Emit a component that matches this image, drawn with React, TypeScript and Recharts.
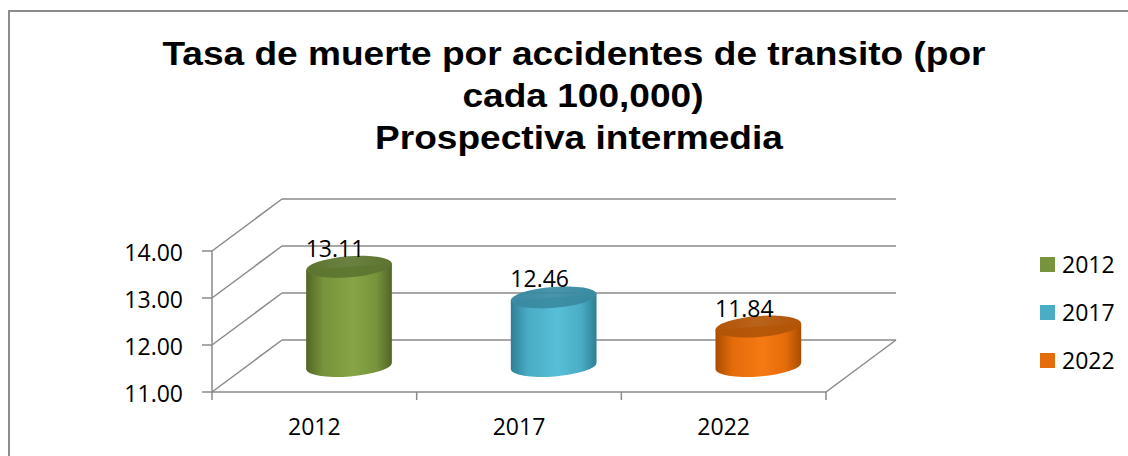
import React from 'react';
import { BarChart, Bar, XAxis, YAxis, CartesianGrid, Legend, LabelList, Cell } from 'recharts';

const years = ['2012', '2017', '2022'];
const rates = [13.11, 12.46, 11.84];
const yTicks = [11, 12, 13, 14];
const colors = ['#77933C', '#4BACC6', '#E46C0A'];
const titleLines = ['Tasa de muerte por accidentes de transito (por', 'cada 100,000)', 'Prospectiva intermedia'];

const data = years.map((year, i) => ({ year, rate: rates[i] }));

// shading for the cylinders (edge, middle, top)
const edgeShade = ['#526526', '#2c7f95', '#a94c00'];
const midShade = ['#87a546', '#58bed7', '#f67a14'];
const topShade = ['#5d7530', '#3a8ba2', '#b25507'];

// fake 3D depth of the Excel box
const DX = 70;
const DY = 52;
const PLOT_LEFT = 212;
const PLOT_RIGHT = 826;
const HALF_BAND = (PLOT_RIGHT - PLOT_LEFT) / years.length / 2;

const FONT = '"Open Sans", sans-serif';
const GRID = '#8a8a8a';

function Cylinder(props: any) {
  const { x, y, width, height, index } = props;
  if (height == null || width == null) return null;
  const cx = x + width / 2 + DX / 2;
  const topY = y - DY / 2;
  const botY = y + height - DY / 2;
  const rx = width / 2;
  const ry = 10.5;
  const tilt = 4.5;
  const t = (tilt * Math.PI) / 180;
  const ox = rx * Math.cos(t);
  const oy = rx * Math.sin(t);
  const body = `M${cx - ox},${topY + oy} L${cx - ox},${botY + oy} A${rx},${ry} ${-tilt} 0 0 ${cx + ox},${botY - oy} L${cx + ox},${topY - oy} Z`;
  const bid = `cyl-body-${index}`;
  const tid = `cyl-top-${index}`;
  return (
    <g>
      <defs>
        <linearGradient id={bid} x1="0" y1="0" x2="1" y2="0">
          <stop offset="0%" stopColor={edgeShade[index]} />
          <stop offset="20%" stopColor={colors[index]} />
          <stop offset="55%" stopColor={midShade[index]} />
          <stop offset="82%" stopColor={colors[index]} />
          <stop offset="100%" stopColor={edgeShade[index]} />
        </linearGradient>
        <linearGradient id={tid} x1="0" y1="0" x2="1" y2="0">
          <stop offset="0%" stopColor={topShade[index]} />
          <stop offset="50%" stopColor={topShade[index]} stopOpacity={0.92} />
          <stop offset="100%" stopColor={topShade[index]} />
        </linearGradient>
      </defs>
      <path d={body} fill={`url(#${bid})`} />
      <ellipse cx={cx} cy={topY} rx={rx} ry={ry} transform={`rotate(${-tilt} ${cx} ${topY})`} fill={`url(#${tid})`} />
    </g>
  );
}

const renderValue = (props: any) => {
  const { x, y, width, value } = props;
  return (
    <text x={x + width / 2 + DX / 2 - 14} y={y - DY / 2 - 10} textAnchor="middle" fontFamily={FONT} fontSize={23} fill="#000">
      {Number(value).toFixed(2)}
    </text>
  );
};

const renderGridLine = (props: any) => {
  const { x1, x2, y1, key } = props;
  return (
    <g key={key}>
      <line x1={x1} y1={y1} x2={x1 + DX} y2={y1 - DY} stroke={GRID} strokeWidth={1.5} />
      <line x1={x1 + DX} y1={y1 - DY} x2={x2 + DX} y2={y1 - DY} stroke={GRID} strokeWidth={1.5} />
    </g>
  );
};

const XTick = (props: any) => {
  const { x, y, payload, index } = props;
  const last = index === years.length - 1;
  return (
    <g>
      <line x1={x - HALF_BAND} y1={y} x2={x - HALF_BAND} y2={y + 8} stroke={GRID} strokeWidth={1.5} />
      {last && <line x1={x + HALF_BAND} y1={y} x2={x + HALF_BAND} y2={y + 8} stroke={GRID} strokeWidth={1.5} />}
      {last && <line x1={x + HALF_BAND} y1={y} x2={x + HALF_BAND + DX} y2={y - DY} stroke={GRID} strokeWidth={1.5} />}
      <text x={x} y={y + 43} textAnchor="middle" fontFamily={FONT} fontSize={23} fill="#000">
        {payload.value}
      </text>
    </g>
  );
};

const renderLegend = () => (
  <div style={{ fontFamily: FONT, fontSize: 23, color: '#000' }}>
    {years.map((year, i) => (
      <div key={year} style={{ display: 'flex', alignItems: 'center', height: 48 }}>
        <span style={{ display: 'inline-block', width: 15, height: 15, background: colors[i], marginRight: 7 }} />
        <span style={{ lineHeight: '48px' }}>{year}</span>
      </div>
    ))}
  </div>
);

export default function App() {
  return (
    <div style={{ position: 'relative', width: 1128, height: 456, overflow: 'hidden', background: '#fff' }}>
      <style>{'body{margin:0;overflow:hidden;}'}</style>
      <div
        style={{
          position: 'absolute',
          left: 8,
          top: 10,
          width: 1200,
          height: 500,
          borderLeft: '2px solid #8c8c8c',
          borderTop: '2px solid #8c8c8c',
          boxSizing: 'border-box',
        }}
      />
      {titleLines.map((line, i) => (
        <div
          key={i}
          style={{
            position: 'absolute',
            left: [574, 583, 579][i] - 500,
            top: 32 + i * 42,
            width: 1000,
            textAlign: 'center',
            fontFamily: '"Liberation Sans", Arial, sans-serif',
            fontWeight: 'bold',
            fontSize: 34,
            lineHeight: '42px',
            color: '#000',
            whiteSpace: 'nowrap',
            transform: 'scaleX(1.09)',
          }}
        >
          {line}
        </div>
      ))}
      <div style={{ position: 'absolute', left: 0, top: 0 }}>
        <BarChart width={1128} height={456} data={data} margin={{ top: 251, right: 302, left: 132, bottom: 0 }}>
          <CartesianGrid vertical={false} horizontal={renderGridLine} />
          <XAxis
            dataKey="year"
            height={64}
            interval={0}
            tickSize={0}
            tickMargin={0}
            tickLine={false}
            axisLine={{ stroke: GRID, strokeWidth: 1.5 }}
            tick={<XTick />}
          />
          <YAxis
            width={80}
            domain={[11, 14]}
            ticks={yTicks}
            type="number"
            allowDataOverflow
            tickFormatter={(v: number) => v.toFixed(2)}
            tickSize={10}
            tickMargin={19}
            tickLine={{ stroke: GRID, strokeWidth: 1.5 }}
            axisLine={{ stroke: GRID, strokeWidth: 1.5 }}
            tick={{ fontFamily: FONT, fontSize: 23, fill: '#000', dy: 2 }}
          />
          <Legend
            layout="vertical"
            align="center"
            verticalAlign="middle"
            wrapperStyle={{ left: 1040, top: 240, width: 90 }}
            content={renderLegend}
          />
          <Bar dataKey="rate" barSize={86} isAnimationActive={false} shape={(p: any) => <Cylinder {...p} />}>
            {data.map((d, i) => (
              <Cell key={d.year} fill={colors[i]} />
            ))}
            <LabelList dataKey="rate" content={renderValue} />
          </Bar>
        </BarChart>
      </div>
    </div>
  );
}
